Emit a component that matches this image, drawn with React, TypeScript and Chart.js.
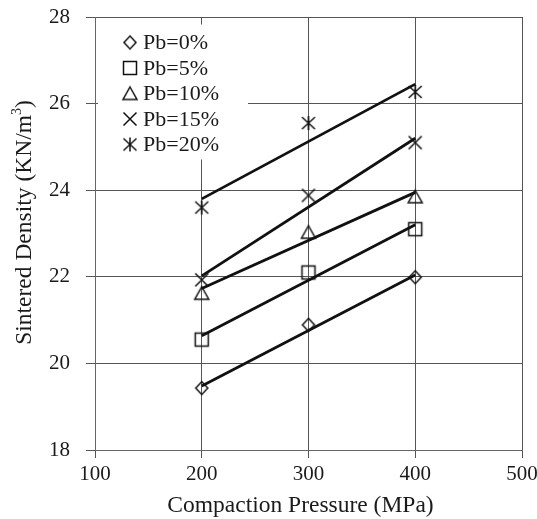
import React, { useEffect, useRef } from 'react';
import { Chart, registerables } from 'chart.js';

Chart.register(...registerables);

const pressures = [200, 300, 400];
const seriesLabels = ['Pb=0%', 'Pb=5%', 'Pb=10%', 'Pb=15%', 'Pb=20%'];
const markerKinds = ['diamond', 'square', 'triangle', 'cross', 'asterisk'];
const pb0 = [19.43, 20.89, 21.99];
const pb5 = [20.55, 22.1, 23.1];
const pb10 = [21.62, 23.03, 23.85];
const pb15 = [21.93, 23.88, 25.1];
const pb20 = [23.6, 25.55, 26.27];
const fitX = [200, 400];
const fit0 = [19.48, 22.04];
const fit5 = [20.64, 23.2];
const fit10 = [21.73, 23.95];
const fit15 = [22.02, 25.2];
const fit20 = [23.8, 26.45];
const xTitle = 'Compaction Pressure (MPa)';
const yTitleMain = 'Sintered Density (KN/m';
const yTitleSup = '3';
const yTitleEnd = ')';

const seriesValues = [pb0, pb5, pb10, pb15, pb20];
const fitValues = [fit0, fit5, fit10, fit15, fit20];

const SERIF = '"Liberation Serif", "Times New Roman", serif';

function makeMarker(kind: string): HTMLCanvasElement {
  const c = document.createElement('canvas');
  const S = 18;
  c.width = S;
  c.height = S;
  const g = c.getContext('2d')!;
  g.strokeStyle = '#111';
  g.lineWidth = 1.5;
  const m = S / 2;
  g.beginPath();
  if (kind === 'diamond') {
    g.moveTo(m, m - 6.5);
    g.lineTo(m + 6, m);
    g.lineTo(m, m + 6.5);
    g.lineTo(m - 6, m);
    g.closePath();
  } else if (kind === 'square') {
    g.rect(m - 6.5, m - 6.5, 13, 13);
  } else if (kind === 'triangle') {
    g.moveTo(m, m - 6.5);
    g.lineTo(m + 7, m + 6);
    g.lineTo(m - 7, m + 6);
    g.closePath();
  } else if (kind === 'cross') {
    g.moveTo(m - 6.5, m - 6.5);
    g.lineTo(m + 6.5, m + 6.5);
    g.moveTo(m + 6.5, m - 6.5);
    g.lineTo(m - 6.5, m + 6.5);
  } else {
    g.moveTo(m - 6.5, m - 6);
    g.lineTo(m + 6.5, m + 6);
    g.moveTo(m + 6.5, m - 6);
    g.lineTo(m - 6.5, m + 6);
    g.moveTo(m, m - 7);
    g.lineTo(m, m + 7);
  }
  g.stroke();
  return c;
}

export default function App() {
  const ref = useRef<HTMLCanvasElement>(null);

  useEffect(() => {
    if (!ref.current) return;
    const markers = markerKinds.map(makeMarker);

    const datasets: any[] = [];
    fitValues.forEach((vals, i) => {
      datasets.push({
        label: 'fit ' + seriesLabels[i],
        data: fitX.map((x, j) => ({ x, y: vals[j] })),
        showLine: true,
        borderColor: '#111',
        borderWidth: 2.8,
        pointRadius: 0,
        fill: false,
      });
    });
    seriesValues.forEach((vals, i) => {
      datasets.push({
        label: seriesLabels[i],
        data: pressures.map((x, j) => ({ x, y: vals[j] })),
        showLine: false,
        pointStyle: markers[i],
        pointRadius: 7,
      });
    });

    const overlay = {
      id: 'overlay',
      beforeDatasetsDraw(chart: any) {
        const { ctx, chartArea } = chart;
        ctx.save();
        ctx.fillStyle = '#ffffff';
        ctx.fillRect(chartArea.left + 3, chartArea.top + 7.5, 150, 135);
        ctx.font = `22px ${SERIF}`;
        ctx.fillStyle = '#1a1a1a';
        ctx.textBaseline = 'middle';
        ctx.textAlign = 'left';
        seriesLabels.forEach((lab, i) => {
          const y = chartArea.top + 25.5 + i * 25.5;
          const mk = markers[i];
          ctx.drawImage(mk, chartArea.left + 35 - mk.width / 2, y - mk.height / 2);
          ctx.fillText(lab, chartArea.left + 48, y + 1);
        });
        ctx.restore();
      },
      afterDraw(chart: any) {
        const { ctx, chartArea } = chart;
        ctx.save();
        ctx.fillStyle = '#1a1a1a';
        ctx.textBaseline = 'middle';
        // x title
        ctx.font = `23.5px ${SERIF}`;
        ctx.textAlign = 'center';
        ctx.fillText(xTitle, (chartArea.left + chartArea.right) / 2 - 8, chartArea.bottom + 56);
        // y title
        ctx.translate(25, (chartArea.top + chartArea.bottom) / 2 - 11);
        ctx.rotate(-Math.PI / 2);
        ctx.textAlign = 'left';
        const mainFont = `23.5px ${SERIF}`;
        const supFont = `14px ${SERIF}`;
        ctx.font = mainFont;
        const w1 = ctx.measureText(yTitleMain).width;
        const w3 = ctx.measureText(yTitleEnd).width;
        ctx.font = supFont;
        const w2 = ctx.measureText(yTitleSup).width;
        const total = w1 + w2 + w3;
        let x = -total / 2;
        ctx.font = mainFont;
        ctx.fillText(yTitleMain, x, 0);
        x += w1;
        ctx.font = supFont;
        ctx.fillText(yTitleSup, x, -8);
        x += w2;
        ctx.font = mainFont;
        ctx.fillText(yTitleEnd, x, 0);
        ctx.restore();
      },
    };

    const chart = new Chart(ref.current, {
      type: 'scatter',
      data: { datasets },
      plugins: [overlay],
      options: {
        animation: false,
        responsive: false,
        layout: { padding: { left: 0, right: 15, top: 17, bottom: 0 } },
        plugins: {
          legend: { display: false },
          tooltip: { enabled: false },
        },
        scales: {
          x: {
            type: 'linear',
            min: 100,
            max: 500,
            ticks: {
              stepSize: 100,
              padding: 4,
              color: '#1a1a1a',
              font: { family: SERIF, size: 21 },
            },
            grid: { color: '#555', lineWidth: 1, tickLength: 8 },
            border: { color: '#666', width: 1 },
            afterFit: (s: any) => {
              s.height = 69;
              s.paddingLeft = 0;
              s.paddingRight = 0;
            },
          },
          y: {
            min: 18,
            max: 28,
            ticks: {
              stepSize: 2,
              padding: 16,
              color: '#1a1a1a',
              font: { family: SERIF, size: 21 },
            },
            grid: { color: '#555', lineWidth: 1, tickLength: 9 },
            border: { color: '#666', width: 1 },
            afterFit: (s: any) => {
              s.width = 95;
              s.paddingTop = 0;
              s.paddingBottom = 0;
            },
          },
        },
      },
    });
    return () => chart.destroy();
  }, []);

  return (
    <div style={{ position: 'fixed', left: 0, top: 0, width: 537, height: 519, background: '#fff' }}>
      <canvas ref={ref} width={537} height={519} style={{ display: 'block' }} />
    </div>
  );
}
